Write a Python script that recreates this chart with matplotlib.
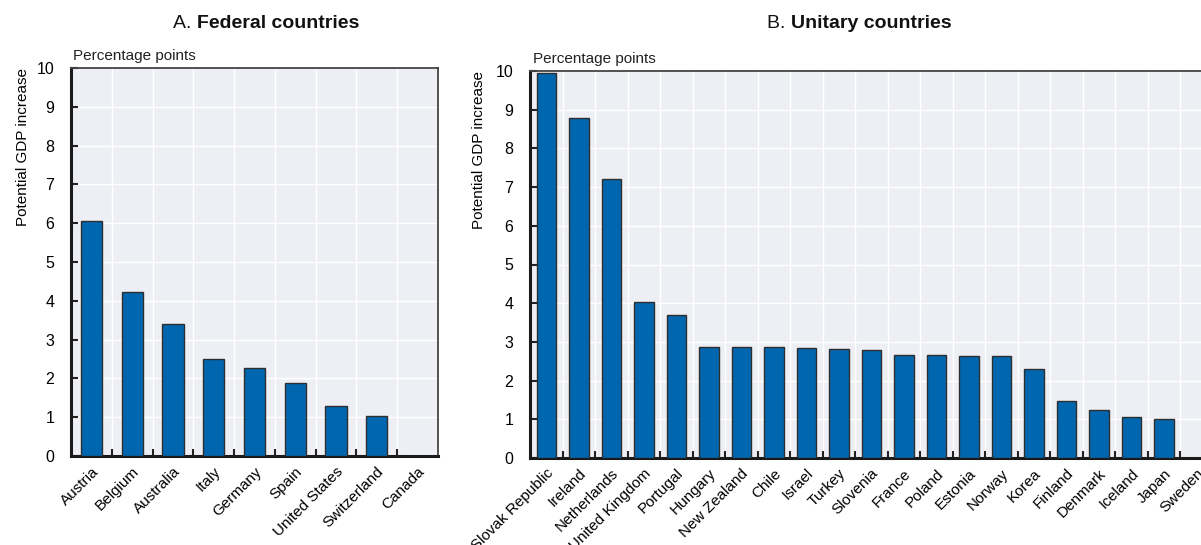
import matplotlib
matplotlib.use("Agg")
import matplotlib.pyplot as plt
import numpy as np

plt.rcParams['font.family'] = ['Liberation Sans', 'DejaVu Sans']

federal_countries = ["Austria", "Belgium", "Australia", "Italy", "Germany", "Spain",
                     "United States", "Switzerland", "Canada"]
federal_values = [6.05, 4.23, 3.40, 2.51, 2.28, 1.87, 1.29, 1.03, 0.0]

unitary_countries = ["Slovak Republic", "Ireland", "Netherlands", "United Kingdom", "Portugal",
                     "Hungary", "New Zealand", "Chile", "Israel", "Turkey", "Slovenia", "France",
                     "Poland", "Estonia", "Norway", "Korea", "Finland", "Denmark", "Iceland",
                     "Japan", "Sweden"]
unitary_values = [9.95, 8.78, 7.20, 4.02, 3.70, 2.88, 2.87, 2.86, 2.83, 2.82, 2.78, 2.67,
                  2.67, 2.63, 2.63, 2.30, 1.46, 1.24, 1.06, 1.02, 0.0]

y_ticks = list(range(0, 11))

BAR = "#0066B0"
EDGE = "#2E2E2E"
PANEL_BG = "#EDEFF5"
FS = 11

W, H = 1201, 545
fig = plt.figure(figsize=(W / 100, H / 100), dpi=100)


def px_axes(x0, x1, ytop, ybot):
    return fig.add_axes([x0 / W, (H - ybot) / H, (x1 - x0) / W, (ybot - ytop) / H])


def style_panel(ax, cats, vals, width, ylab_x):
    n = len(cats)
    x = np.arange(n)
    ax.set_facecolor(PANEL_BG)
    ax.bar(x, vals, width=width, color=BAR, edgecolor=EDGE, linewidth=1.0, zorder=3)
    ax.set_xlim(-0.5, n - 0.5)
    ax.set_ylim(0, 10)
    ax.set_yticks(y_ticks)
    ax.set_yticklabels([str(v) for v in y_ticks], fontsize=FS + 0.5)
    ax.set_xticks(x)
    ax.set_xticklabels(cats, rotation=45, ha='right', rotation_mode='anchor', fontsize=FS)
    ax.tick_params(axis='x', which='major', length=0, pad=6)
    ax.set_xticks(np.arange(0.5, n - 0.5, 1.0), minor=True)
    ax.tick_params(axis='x', which='minor', direction='in', length=5, width=1.5, color='#222222')
    ax.tick_params(axis='y', direction='in', length=5, width=1.5, color='#222222', pad=12)
    ax.grid(False)
    for yy in y_ticks[1:-1]:
        ax.axhline(yy, color='white', lw=1.0, zorder=1)
    for xx in np.arange(0.5, n - 0.5, 1.0):
        ax.axvline(xx, color='white', lw=1.0, zorder=1)
    for s in ['top', 'right']:
        ax.spines[s].set_color('#444444')
        ax.spines[s].set_linewidth(1.3)
    for s in ['left', 'bottom']:
        ax.spines[s].set_color('#1a1a1a')
        ax.spines[s].set_linewidth(2.2)
    ax.set_ylabel("Potential GDP increase", fontsize=FS, loc='top')
    ax.yaxis.set_label_coords(ylab_x, 1.0)
    ax.text(0.005, 1.012, "Percentage points", transform=ax.transAxes, fontsize=FS,
            ha='left', va='bottom', color='#222222')


ax1 = px_axes(71, 438, 68, 456)
style_panel(ax1, federal_countries, federal_values, 0.52, -0.113)

ax2 = px_axes(530, 1212.5, 71, 458)
style_panel(ax2, unitary_countries, unitary_values, 0.6, -0.065)
ax2.spines['right'].set_visible(False)


def two_part_title(cx, cy, lead, bold):
    renderer = fig.canvas.get_renderer()
    t1 = fig.text(0, cy / H, lead, fontsize=14, ha='left', va='center', color='#111111')
    t2 = fig.text(0, cy / H, bold, fontsize=14, fontweight='bold', ha='left', va='center',
                  color='#111111')
    w1 = t1.get_window_extent(renderer).width
    w2 = t2.get_window_extent(renderer).width
    start = cx - (w1 + w2) / 2
    t1.set_x(start / W)
    t2.set_x((start + w1) / W)


two_part_title(266, H - 24, "A. ", "Federal countries")
two_part_title(859, H - 24, "B. ", "Unitary countries")

fig.savefig("out.png", dpi=100)
